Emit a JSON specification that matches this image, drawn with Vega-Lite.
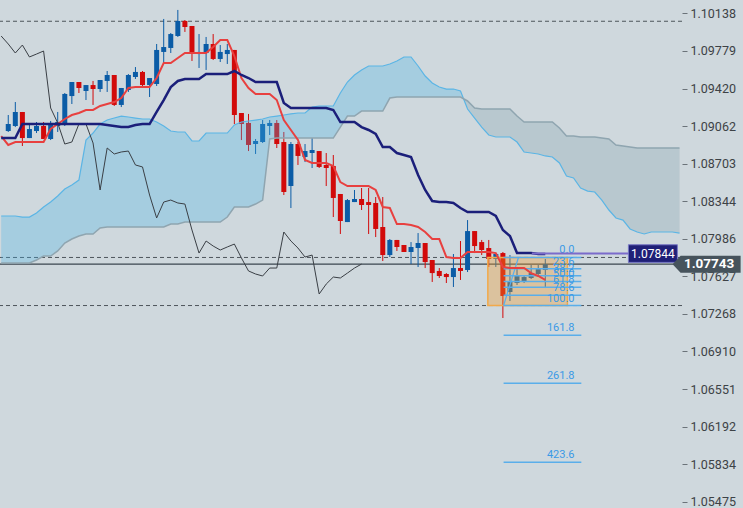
{
"$schema":"https://vega.github.io/schema/vega-lite/v6.json",
"width":682,"height":508,
"autosize":{"type":"none"},
"padding":{"left":0,"top":0,"right":61,"bottom":0},
"background":"#cfd8dd",
"config":{"view":{"stroke":null},
 "axisY":{"domain":false,"grid":false,"ticks":true,"tickSize":5,"tickColor":"#6b7379","tickWidth":1,"labelPadding":3,"labelFont":"Roboto","labelFontSize":12.5,"labelColor":"#3d4246","labelBound":false,"labelOverlap":false,"labelFlush":false}},
"datasets":{
"c":[
{"i":0,"o":1.09014,"h":1.09167,"l":1.09005,"c":1.09081},
{"i":1,"o":1.09062,"h":1.09291,"l":1.09052,"c":1.09196},
{"i":2,"o":1.09196,"h":1.09196,"l":1.08871,"c":1.08947},
{"i":3,"o":1.08947,"h":1.09072,"l":1.08947,"c":1.09033},
{"i":4,"o":1.09014,"h":1.09100,"l":1.08995,"c":1.09062},
{"i":5,"o":1.09062,"h":1.09100,"l":1.08938,"c":1.08938},
{"i":6,"o":1.08938,"h":1.09110,"l":1.08928,"c":1.09081},
{"i":7,"o":1.09062,"h":1.09196,"l":1.09005,"c":1.09100},
{"i":8,"o":1.09081,"h":1.09377,"l":1.09062,"c":1.09368},
{"i":9,"o":1.09348,"h":1.09482,"l":1.09272,"c":1.09482},
{"i":10,"o":1.09482,"h":1.09482,"l":1.09377,"c":1.09425},
{"i":11,"o":1.09396,"h":1.09453,"l":1.09310,"c":1.09453},
{"i":12,"o":1.09453,"h":1.09492,"l":1.09263,"c":1.09415},
{"i":13,"o":1.09415,"h":1.09501,"l":1.09387,"c":1.09501},
{"i":14,"o":1.09492,"h":1.09587,"l":1.09387,"c":1.09549},
{"i":15,"o":1.09549,"h":1.09549,"l":1.09253,"c":1.09263},
{"i":16,"o":1.09263,"h":1.09425,"l":1.09243,"c":1.09425},
{"i":17,"o":1.09406,"h":1.09558,"l":1.09387,"c":1.09549},
{"i":18,"o":1.09530,"h":1.09625,"l":1.09511,"c":1.09578},
{"i":19,"o":1.09578,"h":1.09587,"l":1.09444,"c":1.09453},
{"i":20,"o":1.09453,"h":1.09520,"l":1.09339,"c":1.09520},
{"i":21,"o":1.09463,"h":1.09845,"l":1.09444,"c":1.09788},
{"i":22,"o":1.09769,"h":1.10084,"l":1.09663,"c":1.09816},
{"i":23,"o":1.09807,"h":1.09950,"l":1.09759,"c":1.09940},
{"i":24,"o":1.09921,"h":1.10170,"l":1.09912,"c":1.10065},
{"i":25,"o":1.10065,"h":1.10074,"l":1.09960,"c":1.10007},
{"i":26,"o":1.10017,"h":1.10017,"l":1.09683,"c":1.09759},
{"i":27,"o":1.09749,"h":1.09940,"l":1.09616,"c":1.09769},
{"i":28,"o":1.09759,"h":1.09912,"l":1.09597,"c":1.09845},
{"i":29,"o":1.09845,"h":1.09940,"l":1.09692,"c":1.09702},
{"i":30,"o":1.09702,"h":1.09835,"l":1.09673,"c":1.09769},
{"i":31,"o":1.09749,"h":1.09845,"l":1.09654,"c":1.09788},
{"i":32,"o":1.09788,"h":1.09788,"l":1.09081,"c":1.09167},
{"i":33,"o":1.09186,"h":1.09186,"l":1.08928,"c":1.09081},
{"i":34,"o":1.09091,"h":1.09177,"l":1.08823,"c":1.08881},
{"i":35,"o":1.08890,"h":1.08938,"l":1.08795,"c":1.08919},
{"i":36,"o":1.08909,"h":1.09119,"l":1.08900,"c":1.09081},
{"i":37,"o":1.09062,"h":1.09119,"l":1.08976,"c":1.09091},
{"i":38,"o":1.09091,"h":1.09119,"l":1.08852,"c":1.08890},
{"i":39,"o":1.08909,"h":1.09005,"l":1.08403,"c":1.08432},
{"i":40,"o":1.08489,"h":1.08909,"l":1.08279,"c":1.08890},
{"i":41,"o":1.08890,"h":1.08909,"l":1.08690,"c":1.08776},
{"i":42,"o":1.08766,"h":1.08890,"l":1.08718,"c":1.08823},
{"i":43,"o":1.08804,"h":1.08947,"l":1.08661,"c":1.08833},
{"i":44,"o":1.08823,"h":1.08823,"l":1.08661,"c":1.08671},
{"i":45,"o":1.08690,"h":1.08804,"l":1.08489,"c":1.08661},
{"i":46,"o":1.08680,"h":1.08785,"l":1.08193,"c":1.08375},
{"i":47,"o":1.08413,"h":1.08413,"l":1.08031,"c":1.08155},
{"i":48,"o":1.08145,"h":1.08365,"l":1.08145,"c":1.08355},
{"i":49,"o":1.08336,"h":1.08451,"l":1.08336,"c":1.08365},
{"i":50,"o":1.08365,"h":1.08470,"l":1.08260,"c":1.08308},
{"i":51,"o":1.08336,"h":1.08470,"l":1.08031,"c":1.08308},
{"i":52,"o":1.08327,"h":1.08384,"l":1.08002,"c":1.08079},
{"i":53,"o":1.08098,"h":1.08384,"l":1.07773,"c":1.07830},
{"i":54,"o":1.07830,"h":1.07983,"l":1.07811,"c":1.07974},
{"i":55,"o":1.07974,"h":1.07974,"l":1.07869,"c":1.07907},
{"i":56,"o":1.07926,"h":1.07926,"l":1.07859,"c":1.07859},
{"i":57,"o":1.07859,"h":1.07954,"l":1.07744,"c":1.07907},
{"i":58,"o":1.07897,"h":1.08040,"l":1.07716,"c":1.07945},
{"i":59,"o":1.07945,"h":1.07945,"l":1.07706,"c":1.07763},
{"i":60,"o":1.07783,"h":1.07783,"l":1.07573,"c":1.07658},
{"i":61,"o":1.07678,"h":1.07706,"l":1.07611,"c":1.07630},
{"i":62,"o":1.07649,"h":1.07658,"l":1.07563,"c":1.07620},
{"i":63,"o":1.07620,"h":1.07840,"l":1.07525,"c":1.07706},
{"i":64,"o":1.07706,"h":1.07964,"l":1.07592,"c":1.07678},
{"i":65,"o":1.07687,"h":1.08164,"l":1.07668,"c":1.08059},
{"i":66,"o":1.08059,"h":1.08059,"l":1.07849,"c":1.07916},
{"i":67,"o":1.07954,"h":1.07974,"l":1.07830,"c":1.07878},
{"i":68,"o":1.07897,"h":1.07974,"l":1.07716,"c":1.07792},
{"i":69,"o":1.07792,"h":1.07849,"l":1.07716,"c":1.07840},
{"i":70,"o":1.07849,"h":1.07859,"l":1.07229,"c":1.07439},
{"i":71,"o":1.07477,"h":1.07830,"l":1.07391,"c":1.07573},
{"i":72,"o":1.07563,"h":1.07716,"l":1.07544,"c":1.07639},
{"i":73,"o":1.07573,"h":1.07639,"l":1.07563,"c":1.07620},
{"i":74,"o":1.07611,"h":1.07735,"l":1.07601,"c":1.07658},
{"i":75,"o":1.07649,"h":1.07735,"l":1.07639,"c":1.07697},
{"i":76,"o":1.07687,"h":1.07792,"l":1.07515,"c":1.07743}
],
"lk":[
{"i":-1,"tk":1.08966,"kj":1.08947},{"i":0,"tk":1.08881,"kj":1.08947},{"i":1,"tk":1.08909,"kj":1.08947},
{"i":2,"tk":1.08909,"kj":1.09081},{"i":3,"tk":1.08909,"kj":1.09081},{"i":4,"tk":1.08909,"kj":1.09081},
{"i":5,"tk":1.08909,"kj":1.09081},{"i":6,"tk":1.09033,"kj":1.09081},{"i":7,"tk":1.09081,"kj":1.09081},
{"i":8,"tk":1.09129,"kj":1.09081},{"i":9,"tk":1.09167,"kj":1.09081},{"i":10,"tk":1.09186,"kj":1.09081},
{"i":11,"tk":1.09215,"kj":1.09081},{"i":12,"tk":1.09215,"kj":1.09081},{"i":13,"tk":1.09253,"kj":1.09081},
{"i":14,"tk":1.09272,"kj":1.09072},{"i":15,"tk":1.09291,"kj":1.09062},{"i":16,"tk":1.09329,"kj":1.09052},
{"i":17,"tk":1.09425,"kj":1.09052},{"i":18,"tk":1.09434,"kj":1.09072},{"i":19,"tk":1.09434,"kj":1.09081},
{"i":20,"tk":1.09434,"kj":1.09081},{"i":21,"tk":1.09520,"kj":1.09196},{"i":22,"tk":1.09663,"kj":1.09310},
{"i":23,"tk":1.09663,"kj":1.09434},{"i":24,"tk":1.09711,"kj":1.09492},{"i":25,"tk":1.09759,"kj":1.09511},
{"i":26,"tk":1.09759,"kj":1.09511},{"i":27,"tk":1.09759,"kj":1.09511},{"i":28,"tk":1.09759,"kj":1.09558},
{"i":29,"tk":1.09816,"kj":1.09558},{"i":30,"tk":1.09883,"kj":1.09558},{"i":31,"tk":1.09883,"kj":1.09558},
{"i":32,"tk":1.09730,"kj":1.09587},{"i":33,"tk":1.09520,"kj":1.09549},{"i":34,"tk":1.09425,"kj":1.09520},
{"i":35,"tk":1.09368,"kj":1.09482},{"i":36,"tk":1.09368,"kj":1.09482},{"i":37,"tk":1.09368,"kj":1.09482},
{"i":38,"tk":1.09310,"kj":1.09482},{"i":39,"tk":1.09119,"kj":1.09282},{"i":40,"tk":1.09024,"kj":1.09234},
{"i":41,"tk":1.08928,"kj":1.09234},{"i":42,"tk":1.08737,"kj":1.09234},{"i":43,"tk":1.08709,"kj":1.09234},
{"i":44,"tk":1.08709,"kj":1.09234},{"i":45,"tk":1.08709,"kj":1.09234},{"i":46,"tk":1.08680,"kj":1.09215},
{"i":47,"tk":1.08527,"kj":1.09100},{"i":48,"tk":1.08489,"kj":1.09100},{"i":49,"tk":1.08489,"kj":1.09100},
{"i":50,"tk":1.08489,"kj":1.09052},{"i":51,"tk":1.08489,"kj":1.09024},{"i":52,"tk":1.08451,"kj":1.08986},
{"i":53,"tk":1.08289,"kj":1.08861},{"i":54,"tk":1.08279,"kj":1.08861},{"i":55,"tk":1.08126,"kj":1.08804},
{"i":56,"tk":1.08126,"kj":1.08785},{"i":57,"tk":1.08117,"kj":1.08766},{"i":58,"tk":1.08098,"kj":1.08594},
{"i":59,"tk":1.08050,"kj":1.08451},{"i":60,"tk":1.07983,"kj":1.08346},{"i":61,"tk":1.07983,"kj":1.08336},
{"i":62,"tk":1.07811,"kj":1.08336},{"i":63,"tk":1.07802,"kj":1.08327},{"i":64,"tk":1.07802,"kj":1.08279},
{"i":65,"tk":1.07859,"kj":1.08241},{"i":66,"tk":1.07859,"kj":1.08241},{"i":67,"tk":1.07859,"kj":1.08241},
{"i":68,"tk":1.07859,"kj":1.08241},{"i":69,"tk":1.07849,"kj":1.08203},{"i":70,"tk":1.07716,"kj":1.08069},
{"i":71,"tk":1.07706,"kj":1.08012},{"i":72,"tk":1.07706,"kj":1.07849},{"i":73,"tk":1.07706,"kj":1.07849},
{"i":74,"tk":1.07658,"kj":1.07849},{"i":75,"tk":1.07630,"kj":1.07840},{"i":76,"tk":1.07592,"kj":1.07840}
],
"ch":[
{"i":-1,"v":1.09921},{"i":0,"v":1.09845},{"i":1,"v":1.09759},{"i":2,"v":1.09835},{"i":3,"v":1.09721},
{"i":4,"v":1.09749},{"i":5,"v":1.09778},{"i":6,"v":1.09234},{"i":7,"v":1.09091},{"i":8,"v":1.08890},
{"i":9,"v":1.08909},{"i":10,"v":1.09081},{"i":11,"v":1.09081},{"i":12,"v":1.08900},{"i":13,"v":1.08451},
{"i":14,"v":1.08852},{"i":15,"v":1.08795},{"i":16,"v":1.08814},{"i":17,"v":1.08823},{"i":18,"v":1.08690},
{"i":19,"v":1.08671},{"i":20,"v":1.08403},{"i":21,"v":1.08184},{"i":22,"v":1.08336},{"i":23,"v":1.08355},
{"i":24,"v":1.08327},{"i":25,"v":1.08317},{"i":26,"v":1.08069},{"i":27,"v":1.07849},{"i":28,"v":1.07964},
{"i":29,"v":1.07916},{"i":30,"v":1.07878},{"i":31,"v":1.07907},{"i":32,"v":1.07935},{"i":33,"v":1.07802},
{"i":34,"v":1.07678},{"i":35,"v":1.07649},{"i":36,"v":1.07630},{"i":37,"v":1.07706},{"i":38,"v":1.07706},
{"i":39,"v":1.08050},{"i":40,"v":1.07964},{"i":41,"v":1.07897},{"i":42,"v":1.07811},{"i":43,"v":1.07830},
{"i":44,"v":1.07458},{"i":45,"v":1.07553},{"i":46,"v":1.07620},{"i":47,"v":1.07611},{"i":48,"v":1.07658},
{"i":49,"v":1.07706},{"i":50,"v":1.07744}
],
"cl":[
{"i":-1,"sa":1.08203,"sb":1.07754},{"i":0,"sa":1.08203,"sb":1.07754},{"i":1,"sa":1.08203,"sb":1.07754},
{"i":2,"sa":1.08193,"sb":1.07754},{"i":3,"sa":1.08193,"sb":1.07754},{"i":4,"sa":1.08231,"sb":1.07783},
{"i":5,"sa":1.08289,"sb":1.07821},{"i":6,"sa":1.08336,"sb":1.07821},{"i":7,"sa":1.08394,"sb":1.07869},
{"i":8,"sa":1.08460,"sb":1.07945},{"i":9,"sa":1.08499,"sb":1.07983},{"i":10,"sa":1.08546,"sb":1.08012},
{"i":11,"sa":1.08928,"sb":1.08031},{"i":12,"sa":1.08995,"sb":1.08031},{"i":13,"sa":1.09081,"sb":1.08088},
{"i":14,"sa":1.09119,"sb":1.08098},{"i":15,"sa":1.09138,"sb":1.08098},{"i":16,"sa":1.09157,"sb":1.08098},
{"i":17,"sa":1.09148,"sb":1.08098},{"i":18,"sa":1.09138,"sb":1.08098},{"i":19,"sa":1.09129,"sb":1.08098},
{"i":20,"sa":1.09129,"sb":1.08098},{"i":21,"sa":1.09100,"sb":1.08098},{"i":22,"sa":1.09062,"sb":1.08098},
{"i":23,"sa":1.09014,"sb":1.08126},{"i":24,"sa":1.09005,"sb":1.08126},{"i":25,"sa":1.09005,"sb":1.08145},
{"i":26,"sa":1.08919,"sb":1.08145},{"i":27,"sa":1.08919,"sb":1.08145},{"i":28,"sa":1.08995,"sb":1.08145},
{"i":29,"sa":1.08995,"sb":1.08145},{"i":30,"sa":1.08995,"sb":1.08145},{"i":31,"sa":1.08995,"sb":1.08193},
{"i":32,"sa":1.09072,"sb":1.08289},{"i":33,"sa":1.09100,"sb":1.08289},{"i":34,"sa":1.09110,"sb":1.08289},
{"i":35,"sa":1.09119,"sb":1.08317},{"i":36,"sa":1.09129,"sb":1.08355},{"i":37,"sa":1.09148,"sb":1.08938},
{"i":38,"sa":1.09157,"sb":1.08947},{"i":39,"sa":1.09167,"sb":1.08947},{"i":40,"sa":1.09177,"sb":1.08947},
{"i":41,"sa":1.09186,"sb":1.08947},{"i":42,"sa":1.09186,"sb":1.08947},{"i":43,"sa":1.09243,"sb":1.08947},
{"i":44,"sa":1.09253,"sb":1.08947},{"i":45,"sa":1.09253,"sb":1.08947},{"i":46,"sa":1.09253,"sb":1.08947},
{"i":47,"sa":1.09377,"sb":1.09052},{"i":48,"sa":1.09482,"sb":1.09157},{"i":49,"sa":1.09549,"sb":1.09157},
{"i":50,"sa":1.09597,"sb":1.09205},{"i":51,"sa":1.09635,"sb":1.09205},{"i":52,"sa":1.09635,"sb":1.09205},
{"i":53,"sa":1.09635,"sb":1.09205},{"i":54,"sa":1.09654,"sb":1.09329},{"i":55,"sa":1.09683,"sb":1.09339},
{"i":56,"sa":1.09721,"sb":1.09339},{"i":57,"sa":1.09721,"sb":1.09339},{"i":58,"sa":1.09635,"sb":1.09339},
{"i":59,"sa":1.09539,"sb":1.09339},{"i":60,"sa":1.09473,"sb":1.09339},{"i":61,"sa":1.09434,"sb":1.09339},
{"i":62,"sa":1.09415,"sb":1.09339},{"i":63,"sa":1.09415,"sb":1.09339},{"i":64,"sa":1.09396,"sb":1.09339},
{"i":65,"sa":1.09224,"sb":1.09301},{"i":66,"sa":1.09138,"sb":1.09234},{"i":67,"sa":1.09052,"sb":1.09224},
{"i":68,"sa":1.08976,"sb":1.09224},{"i":69,"sa":1.08957,"sb":1.09224},{"i":70,"sa":1.08957,"sb":1.09224},
{"i":71,"sa":1.08957,"sb":1.09224},{"i":72,"sa":1.08909,"sb":1.09157},{"i":73,"sa":1.08814,"sb":1.09100},
{"i":74,"sa":1.08804,"sb":1.09100},{"i":75,"sa":1.08795,"sb":1.09100},{"i":76,"sa":1.08776,"sb":1.09100},
{"i":77,"sa":1.08766,"sb":1.09100},{"i":78,"sa":1.08709,"sb":1.09043},{"i":79,"sa":1.08585,"sb":1.08966},
{"i":80,"sa":1.08566,"sb":1.08966},{"i":81,"sa":1.08470,"sb":1.08957},{"i":82,"sa":1.08441,"sb":1.08957},
{"i":83,"sa":1.08432,"sb":1.08957},{"i":84,"sa":1.08355,"sb":1.08947},{"i":85,"sa":1.08260,"sb":1.08938},
{"i":86,"sa":1.08184,"sb":1.08881},{"i":87,"sa":1.08164,"sb":1.08871},{"i":88,"sa":1.08079,"sb":1.08861},
{"i":89,"sa":1.08050,"sb":1.08852},{"i":90,"sa":1.08031,"sb":1.08852},{"i":91,"sa":1.08050,"sb":1.08852},
{"i":92,"sa":1.08050,"sb":1.08852},{"i":93,"sa":1.08050,"sb":1.08852},{"i":94,"sa":1.08050,"sb":1.08852},
{"i":95,"sa":1.08040,"sb":1.08852}
],
"fib":[
{"lv":"0.0","p":1.07807},{"lv":"23.6","p":1.07699},{"lv":"38.2","p":1.07632},{"lv":"50.0","p":1.07578},
{"lv":"61.8","p":1.07523},{"lv":"78.6","p":1.07446},{"lv":"100.0","p":1.07348},{"lv":"161.8","p":1.07064},
{"lv":"261.8","p":1.06605},{"lv":"423.6","p":1.05852}
],
"hl":[{"p":1.10062},{"p":1.07807},{"p":1.07348}]
},
"layer":[
{"data":{"name":"hl"},"mark":{"type":"rule","strokeDash":[4,3],"color":"#4e555b","strokeWidth":1},
 "encoding":{"y":{"field":"p","type":"quantitative","scale":{"domain":[1.05415,1.10265],"nice":false,"zero":false},
  "axis":{"orient":"right","values":[1.10138,1.09779,1.0942,1.09062,1.08703,1.08344,1.07986,1.07627,1.07268,1.0691,1.06551,1.06192,1.05834,1.05475],"format":".5f","title":null}}}},
{"data":{"values":[{"p":1.07743}]},"mark":{"type":"rule","color":"#3b464f","strokeWidth":1.2},
 "encoding":{"y":{"field":"p","type":"quantitative","scale":{"domain":[1.05415,1.10265],"nice":false,"zero":false},"axis":{"orient":"right","values":[1.10138,1.09779,1.0942,1.09062,1.08703,1.08344,1.07986,1.07627,1.07268,1.0691,1.06551,1.06192,1.05834,1.05475],"format":".5f","title":null}}}},
{"data":{"name":"c"},"mark":{"type":"rule","strokeWidth":1},
 "encoding":{"x":{"field":"i","type":"quantitative","scale":{"domain":[-0.46,94.64],"nice":false,"zero":false},"axis":null},
  "y":{"field":"l","type":"quantitative","scale":{"domain":[1.05415,1.10265],"nice":false,"zero":false},"axis":{"orient":"right","values":[1.10138,1.09779,1.0942,1.09062,1.08703,1.08344,1.07986,1.07627,1.07268,1.0691,1.06551,1.06192,1.05834,1.05475],"format":".5f","title":null}},
  "y2":{"field":"h"},
  "color":{"condition":{"test":"datum.c >= datum.o","value":"#0b5ca6"},"value":"#d20a0a"}}},
{"data":{"name":"c"},"mark":{"type":"bar","size":5,"orient":"vertical"},
 "encoding":{"x":{"field":"i","type":"quantitative","scale":{"domain":[-0.46,94.64],"nice":false,"zero":false},"axis":null},
  "y":{"field":"o","type":"quantitative","scale":{"domain":[1.05415,1.10265],"nice":false,"zero":false},"axis":{"orient":"right","values":[1.10138,1.09779,1.0942,1.09062,1.08703,1.08344,1.07986,1.07627,1.07268,1.0691,1.06551,1.06192,1.05834,1.05475],"format":".5f","title":null}},
  "y2":{"field":"c"},
  "color":{"condition":{"test":"datum.c >= datum.o","value":"#0b5ca6"},"value":"#d20a0a"}}},
{"data":{"name":"cl"},"transform":[{"filter":"datum.i <= 64"}],"mark":{"type":"area","color":"#44b3e7","opacity":0.3,"clip":true},
 "encoding":{"x":{"field":"i","type":"quantitative","scale":{"domain":[-0.46,94.64],"nice":false,"zero":false},"axis":null},
  "y":{"field":"sa","type":"quantitative","scale":{"domain":[1.05415,1.10265],"nice":false,"zero":false},"axis":{"orient":"right","values":[1.10138,1.09779,1.0942,1.09062,1.08703,1.08344,1.07986,1.07627,1.07268,1.0691,1.06551,1.06192,1.05834,1.05475],"format":".5f","title":null}},
  "y2":{"field":"sb"}}},
{"data":{"name":"cl"},"transform":[{"filter":"datum.i >= 64"}],"mark":{"type":"area","color":"#83a3ae","opacity":0.3,"clip":true},
 "encoding":{"x":{"field":"i","type":"quantitative","scale":{"domain":[-0.46,94.64],"nice":false,"zero":false},"axis":null},
  "y":{"field":"sa","type":"quantitative","scale":{"domain":[1.05415,1.10265],"nice":false,"zero":false},"axis":{"orient":"right","values":[1.10138,1.09779,1.0942,1.09062,1.08703,1.08344,1.07986,1.07627,1.07268,1.0691,1.06551,1.06192,1.05834,1.05475],"format":".5f","title":null}},
  "y2":{"field":"sb"}}},
{"data":{"name":"cl"},"mark":{"type":"line","color":"#5bb5e5","strokeWidth":1.2,"clip":true},
 "encoding":{"x":{"field":"i","type":"quantitative","scale":{"domain":[-0.46,94.64],"nice":false,"zero":false},"axis":null},
  "y":{"field":"sa","type":"quantitative","scale":{"domain":[1.05415,1.10265],"nice":false,"zero":false},"axis":{"orient":"right","values":[1.10138,1.09779,1.0942,1.09062,1.08703,1.08344,1.07986,1.07627,1.07268,1.0691,1.06551,1.06192,1.05834,1.05475],"format":".5f","title":null}}}},
{"data":{"name":"cl"},"mark":{"type":"line","color":"#8fa5b0","strokeWidth":1.5,"clip":true},
 "encoding":{"x":{"field":"i","type":"quantitative","scale":{"domain":[-0.46,94.64],"nice":false,"zero":false},"axis":null},
  "y":{"field":"sb","type":"quantitative","scale":{"domain":[1.05415,1.10265],"nice":false,"zero":false},"axis":{"orient":"right","values":[1.10138,1.09779,1.0942,1.09062,1.08703,1.08344,1.07986,1.07627,1.07268,1.0691,1.06551,1.06192,1.05834,1.05475],"format":".5f","title":null}}}},
{"data":{"values":[{}]},"mark":{"type":"rect","fill":"#f09a28","fillOpacity":0.35,"stroke":"#f2a94a","strokeWidth":1.5},
 "encoding":{"x":{"datum":67.87,"type":"quantitative","scale":{"domain":[-0.46,94.64],"nice":false,"zero":false},"axis":null},
  "x2":{"datum":79.13},
  "y":{"datum":1.07807,"type":"quantitative","scale":{"domain":[1.05415,1.10265],"nice":false,"zero":false},"axis":{"orient":"right","values":[1.10138,1.09779,1.0942,1.09062,1.08703,1.08344,1.07986,1.07627,1.07268,1.0691,1.06551,1.06192,1.05834,1.05475],"format":".5f","title":null}},
  "y2":{"datum":1.07348}}},
{"data":{"name":"fib"},"mark":{"type":"rule","color":"#5aaeea","strokeWidth":1.5},
 "encoding":{"x":{"datum":70.1,"type":"quantitative","scale":{"domain":[-0.46,94.64],"nice":false,"zero":false},"axis":null},
  "x2":{"datum":81.1},
  "y":{"field":"p","type":"quantitative","scale":{"domain":[1.05415,1.10265],"nice":false,"zero":false},"axis":{"orient":"right","values":[1.10138,1.09779,1.0942,1.09062,1.08703,1.08344,1.07986,1.07627,1.07268,1.0691,1.06551,1.06192,1.05834,1.05475],"format":".5f","title":null}}}},
{"data":{"values":[{"i":70.1,"p":1.07348},{"i":72.2,"p":1.07807}]},"mark":{"type":"line","color":"#5aaeea","strokeWidth":1.2},
 "encoding":{"x":{"field":"i","type":"quantitative","scale":{"domain":[-0.46,94.64],"nice":false,"zero":false},"axis":null},
  "y":{"field":"p","type":"quantitative","scale":{"domain":[1.05415,1.10265],"nice":false,"zero":false},"axis":{"orient":"right","values":[1.10138,1.09779,1.0942,1.09062,1.08703,1.08344,1.07986,1.07627,1.07268,1.0691,1.06551,1.06192,1.05834,1.05475],"format":".5f","title":null}}}},
{"data":{"name":"fib"},"mark":{"type":"text","align":"right","baseline":"bottom","dy":-2,"font":"Roboto","fontSize":11,"color":"#3b9ae6"},
 "encoding":{"x":{"datum":80.14,"type":"quantitative","scale":{"domain":[-0.46,94.64],"nice":false,"zero":false},"axis":null},
  "y":{"field":"p","type":"quantitative","scale":{"domain":[1.05415,1.10265],"nice":false,"zero":false},"axis":{"orient":"right","values":[1.10138,1.09779,1.0942,1.09062,1.08703,1.08344,1.07986,1.07627,1.07268,1.0691,1.06551,1.06192,1.05834,1.05475],"format":".5f","title":null}},
  "text":{"field":"lv"}}},
{"data":{"name":"ch"},"mark":{"type":"line","color":"#3a3f45","strokeWidth":1,"clip":true},
 "encoding":{"x":{"field":"i","type":"quantitative","scale":{"domain":[-0.46,94.64],"nice":false,"zero":false},"axis":null},
  "y":{"field":"v","type":"quantitative","scale":{"domain":[1.05415,1.10265],"nice":false,"zero":false},"axis":{"orient":"right","values":[1.10138,1.09779,1.0942,1.09062,1.08703,1.08344,1.07986,1.07627,1.07268,1.0691,1.06551,1.06192,1.05834,1.05475],"format":".5f","title":null}}}},
{"data":{"name":"lk"},"mark":{"type":"line","color":"#e8403f","strokeWidth":2,"clip":true},
 "encoding":{"x":{"field":"i","type":"quantitative","scale":{"domain":[-0.46,94.64],"nice":false,"zero":false},"axis":null},
  "y":{"field":"tk","type":"quantitative","scale":{"domain":[1.05415,1.10265],"nice":false,"zero":false},"axis":{"orient":"right","values":[1.10138,1.09779,1.0942,1.09062,1.08703,1.08344,1.07986,1.07627,1.07268,1.0691,1.06551,1.06192,1.05834,1.05475],"format":".5f","title":null}}}},
{"data":{"name":"lk"},"mark":{"type":"line","color":"#1b1f7a","strokeWidth":2.5,"clip":true},
 "encoding":{"x":{"field":"i","type":"quantitative","scale":{"domain":[-0.46,94.64],"nice":false,"zero":false},"axis":null},
  "y":{"field":"kj","type":"quantitative","scale":{"domain":[1.05415,1.10265],"nice":false,"zero":false},"axis":{"orient":"right","values":[1.10138,1.09779,1.0942,1.09062,1.08703,1.08344,1.07986,1.07627,1.07268,1.0691,1.06551,1.06192,1.05834,1.05475],"format":".5f","title":null}}}},
{"data":{"values":[{"p":1.07844}]},"mark":{"type":"rule","color":"#7b6bcb","strokeWidth":2},
 "encoding":{"x":{"datum":74.1,"type":"quantitative","scale":{"domain":[-0.46,94.64],"nice":false,"zero":false},"axis":null},
  "x2":{"datum":94.64},
  "y":{"field":"p","type":"quantitative","scale":{"domain":[1.05415,1.10265],"nice":false,"zero":false},"axis":{"orient":"right","values":[1.10138,1.09779,1.0942,1.09062,1.08703,1.08344,1.07986,1.07627,1.07268,1.0691,1.06551,1.06192,1.05834,1.05475],"format":".5f","title":null}}}},
{"data":{"values":[{"p":1.07844,"t":"1.07844"}]},"mark":{"type":"point","shape":"M-1,-0.36L1,-0.36L1,0.36L-1,0.36Z","size":2401,"filled":true,"fill":"#1f1f77","stroke":"#7777c4","strokeWidth":1,"opacity":1},
 "encoding":{"x":{"datum":91.23,"type":"quantitative","scale":{"domain":[-0.46,94.64],"nice":false,"zero":false},"axis":null},
  "y":{"field":"p","type":"quantitative","scale":{"domain":[1.05415,1.10265],"nice":false,"zero":false},"axis":{"orient":"right","values":[1.10138,1.09779,1.0942,1.09062,1.08703,1.08344,1.07986,1.07627,1.07268,1.0691,1.06551,1.06192,1.05834,1.05475],"format":".5f","title":null}}}},
{"data":{"values":[{"p":1.07844,"t":"1.07844"}]},"mark":{"type":"text","align":"center","baseline":"middle","font":"Roboto","fontSize":12,"color":"#ffffff"},
 "encoding":{"x":{"datum":91.23,"type":"quantitative","scale":{"domain":[-0.46,94.64],"nice":false,"zero":false},"axis":null},
  "y":{"field":"p","type":"quantitative","scale":{"domain":[1.05415,1.10265],"nice":false,"zero":false},"axis":{"orient":"right","values":[1.10138,1.09779,1.0942,1.09062,1.08703,1.08344,1.07986,1.07627,1.07268,1.0691,1.06551,1.06192,1.05834,1.05475],"format":".5f","title":null}},
  "text":{"field":"t"}}},
{"data":{"values":[{"p":1.07743,"t":"1.07743"}]},"mark":{"type":"point","shape":"M-1,0L-0.765,-0.25L1,-0.25L1,0.25L-0.765,0.25Z","size":4624,"filled":true,"fill":"#46535c","strokeWidth":0,"opacity":1},
 "encoding":{"x":{"datum":98.83,"type":"quantitative","scale":{"domain":[-0.46,94.64],"nice":false,"zero":false},"axis":null},
  "y":{"field":"p","type":"quantitative","scale":{"domain":[1.05415,1.10265],"nice":false,"zero":false},"axis":{"orient":"right","values":[1.10138,1.09779,1.0942,1.09062,1.08703,1.08344,1.07986,1.07627,1.07268,1.0691,1.06551,1.06192,1.05834,1.05475],"format":".5f","title":null}}}},
{"data":{"values":[{"p":1.07743,"t":"1.07743"}]},"mark":{"type":"text","align":"center","baseline":"middle","font":"Roboto","fontSize":13.5,"fontWeight":"bold","color":"#ffffff"},
 "encoding":{"x":{"datum":99.18,"type":"quantitative","scale":{"domain":[-0.46,94.64],"nice":false,"zero":false},"axis":null},
  "y":{"field":"p","type":"quantitative","scale":{"domain":[1.05415,1.10265],"nice":false,"zero":false},"axis":{"orient":"right","values":[1.10138,1.09779,1.0942,1.09062,1.08703,1.08344,1.07986,1.07627,1.07268,1.0691,1.06551,1.06192,1.05834,1.05475],"format":".5f","title":null}},
  "text":{"field":"t"}}}
]
}
